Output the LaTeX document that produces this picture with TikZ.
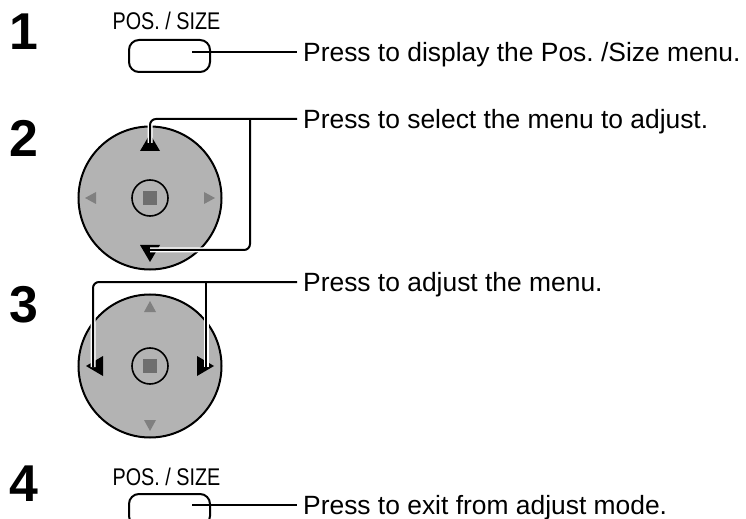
\documentclass[tikz,border=0pt]{standalone}
\usepackage{fontspec}
\setmainfont{Liberation Sans}
\newfontfamily\narrowfont[FakeStretch=0.82]{Liberation Sans}
\usetikzlibrary{positioning}
\definecolor{padgris}{HTML}{B3B3B3}
\definecolor{touchegris}{HTML}{6E6E6E}
\definecolor{flechegris}{HTML}{808080}
\frenchspacing

\tikzset{
  stepnum/.style={font=\bfseries\fontsize{52}{52}\selectfont, anchor=base west, inner sep=0pt},
  keylabel/.style={font=\narrowfont\fontsize{24.2}{25}\selectfont, anchor=base, inner sep=0pt},
  keybox/.style={draw, line width=2bp, rounded corners=10bp, minimum width=81bp, minimum height=32bp, inner sep=0pt},
  desc/.style={font=\fontsize{26.5}{30}\selectfont, anchor=west, inner xsep=6bp, inner ysep=0pt, text height=19bp, text depth=0pt},
  pad/.style={circle, draw, line width=2bp, fill=padgris, minimum size=143bp, inner sep=0pt},
  padkey/.style={circle, draw, line width=1.6bp, fill=padgris, minimum size=36bp, inner sep=0pt},
  enterkey/.style={fill=touchegris, minimum size=14bp, inner sep=0pt},
  lead/.style={line width=2bp},
  halo/.style={white, line width=5bp}
}

\begin{document}
\begin{tikzpicture}[x=1bp, y=-1bp]
    \useasboundingbox (0,0) rectangle (746,519);
    \clip (0,0) rectangle (746,519);

    % step numbers
    \foreach \y/\lab in {50/1, 157/2, 322/3, 501/4} {
      \node[stepnum] (n\lab) at (9,\y) {\lab};
    }

    % POS. / SIZE keys
    \node[keylabel] (k1) at (166.5,30) {POS. / SIZE};
    \node[keybox] (btn1) at (169.5,56) {};
    \node[keylabel] (k4) at (166.5,485) {POS. / SIZE};
    \node[keybox] (btn4) at (169.5,510) {};

    % cursor pads
    \node[pad] (pad2) at (150,198) {};
    \node[padkey] (ok2) at (pad2) {};
    \node[enterkey] (sq2) at (pad2) {};
    \node[pad] (pad3) at (150,366) {};
    \node[padkey] (ok3) at (pad3) {};
    \node[enterkey] (sq3) at (pad3) {};

    \foreach \cx/\cy/\a in {150/198/0, 150/198/180, 150/366/90, 150/366/270} {
      \fill[flechegris, shift={(\cx,\cy)}, rotate=\a] (54,-6) -- (54,6) -- (65,0) -- cycle;
    }
    \foreach \cx/\cy/\a in {150/198/90, 150/198/270, 150/366/0, 150/366/180} {
      \fill[black, shift={(\cx,\cy)}, rotate=\a] (47,-10) -- (47,10) -- (64,0) -- cycle;
    }

    % texts
    \node[desc] (t1) at (297,52.5) {Press to display the Pos. /Size menu.};
    \node[desc] (t2) at (297,119) {Press to select the menu to adjust.};
    \node[desc] (t3) at (297,282) {Press to adjust the menu.};
    \node[desc] (t4) at (297,505) {Press to exit from adjust mode.};

    \coordinate (s1) at (192,52.5);
    \coordinate (s4) at (192,505);
    \coordinate (up2) at (150,143);
    \coordinate (dn2) at (150,250);
    \coordinate (j2) at (250,119);
    \coordinate (lt3) at (93,367);
    \coordinate (rt3) at (206,367);
    \coordinate (j3) at (206,282);

    % leader lines, white rim first
    \draw[halo, rounded corners=6bp] (t2.west) -| (up2);
    \draw[halo, rounded corners=6bp] (j2) |- (dn2);
    \draw[halo, rounded corners=6bp] (t3.west) -| (lt3);
    \draw[halo] (j3) -- (rt3);

    \draw[lead] (s1) -- (t1.west);
    \draw[lead, rounded corners=6bp] (t2.west) -| (up2);
    \draw[lead, rounded corners=6bp] (j2) |- (dn2);
    \draw[lead, rounded corners=6bp] (t3.west) -| (lt3);
    \draw[lead] (j3) -- (rt3);
    \draw[lead] (s4) -- (t4.west);
\end{tikzpicture}
\end{document}
